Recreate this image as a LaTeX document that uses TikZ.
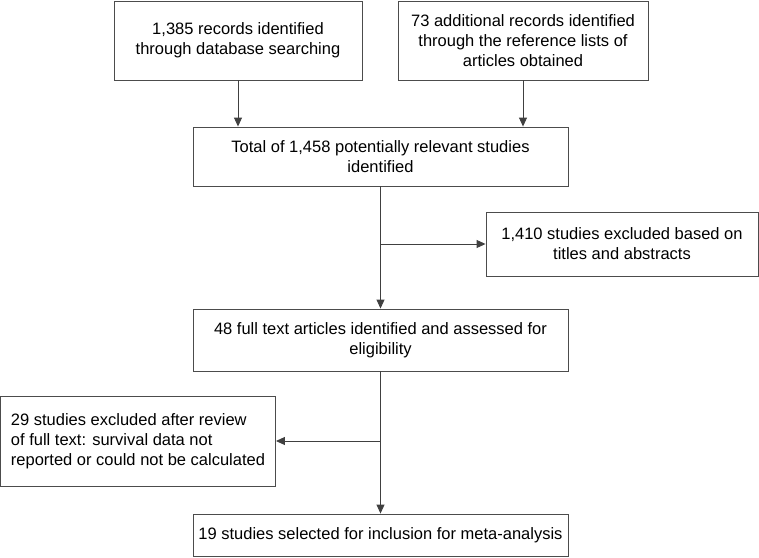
\documentclass[tikz,border=0pt]{standalone}
\usepackage{fontspec}
\setmainfont{Liberation Sans}
\usetikzlibrary{arrows.meta}
\tikzset{
	box/.style={draw=black!70, line width=0.9pt, align=center, inner sep=0pt, font=\fontsize{16.5}{20}\selectfont},
	arr/.style={draw=black!75, line width=0.9pt, -{Triangle[width=8pt,length=9pt]}}
}

\begin{document}
\begin{tikzpicture}[x=1pt,y=-1pt]
		\useasboundingbox (0,0) rectangle (759,557);
		\node[box, minimum width=248, minimum height=79] (rec) at (238,40.5) {1,385 records identified\\through database searching};
		\node[box, minimum width=250, minimum height=79] (add) at (523,40.5) {73 additional records identified\\through the reference lists of\\articles obtained};
		\node[box, minimum width=375, minimum height=59] (total) at (380.5,156.5) {Total of 1,458 potentially relevant studies\\identified};
		\node[box, minimum width=272, minimum height=64] (excla) at (622,244) {1,410 studies excluded based on\\titles and abstracts};
		\node[box, minimum width=375, minimum height=62] (full) at (380.5,340) {48 full text articles identified and assessed for\\eligibility};
		\node[box, align=left, minimum width=275, minimum height=90] (exclb) at (138,441) {29 studies excluded after review\\of full text: survival data not\\reported or could not be calculated};
		\node[box, minimum width=375, minimum height=42] (sel) at (380.5,535) {19 studies selected for inclusion for meta-analysis};
		\coordinate (ba) at (total.south |- excla.west);
		\coordinate (bb) at (full.south |- exclb.east);
		\draw[arr] (rec.south) -- (rec.south |- total.north);
		\draw[arr] (add.south) -- (add.south |- total.north);
		\draw[arr] (total.south) -- (full.north);
		\draw[arr] (ba) -- (excla.west);
		\draw[arr] (full.south) -- (sel.north);
		\draw[arr] (bb) -- (exclb.east);
\end{tikzpicture}
\end{document}
